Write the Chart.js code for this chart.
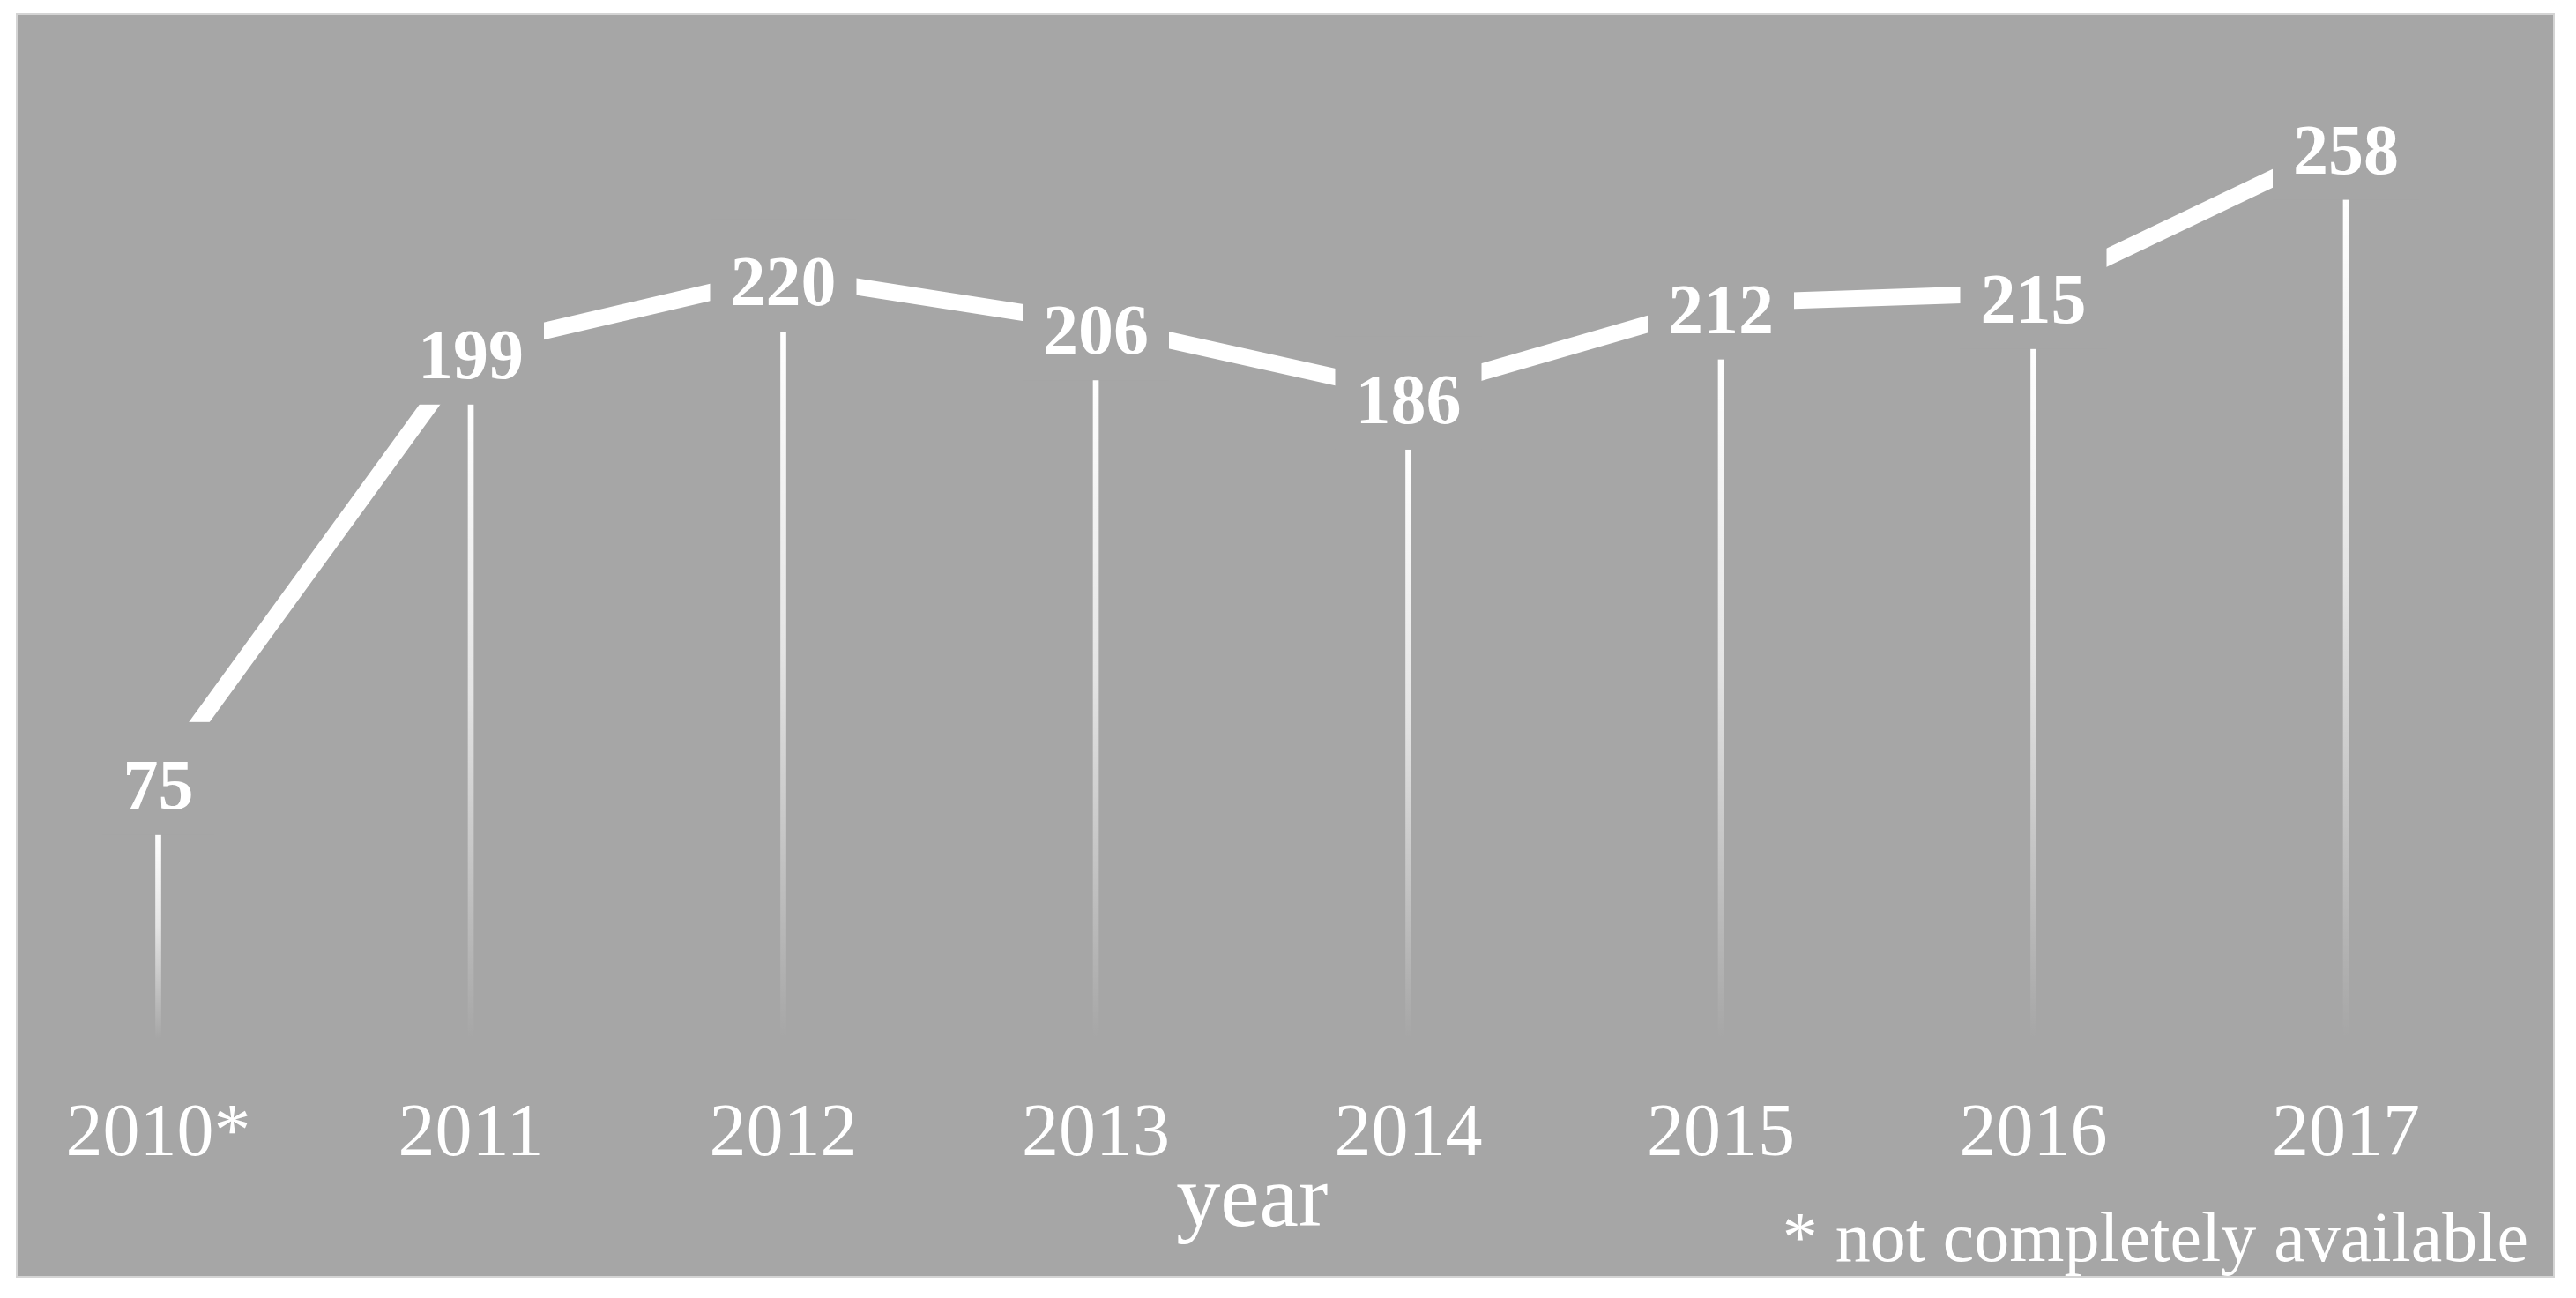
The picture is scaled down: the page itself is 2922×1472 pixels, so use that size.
<!DOCTYPE html>
<html lang="en">
<head>
<meta charset="UTF-8">
<title>Count per year</title>
<style>
  body { margin: 0; background: #ffffff; }
  #chart { display: block; }
</style>
</head>
<body>
<canvas id="chart" width="2922" height="1472"></canvas>
<script src="https://cdn.jsdelivr.net/npm/chart.js"></script>
<script>
const years = ['2010*', '2011', '2012', '2013', '2014', '2015', '2016', '2017'];
const counts = [75, 199, 220, 206, 186, 212, 215, 258];
const axisTitle = 'year';
const footnote = '* not completely available';

const PANEL = '#a6a6a6';
const FONT = '"Liberation Serif", "Times New Roman", serif';

// grey panel behind the whole chart
const panelPlugin = {
  id: 'panel',
  beforeDraw(chart) {
    const c = chart.ctx;
    c.save();
    c.fillStyle = '#ffffff';
    c.fillRect(0, 0, chart.width, chart.height);
    c.fillStyle = PANEL;
    c.fillRect(19, 16, 2878, 1432);
    c.strokeStyle = '#d4d4d4';
    c.lineWidth = 2;
    c.strokeRect(19, 16, 2878, 1432);
    c.restore();
  }
};

// value labels with a grey box that cuts the line
const labelPlugin = {
  id: 'valueLabels',
  afterDatasetsDraw(chart) {
    const c = chart.ctx;
    const meta = chart.getDatasetMeta(1);
    c.save();
    c.font = 'bold 80px ' + FONT;
    c.textAlign = 'center';
    c.textBaseline = 'alphabetic';
    meta.data.forEach((pt, i) => {
      const txt = String(counts[i]);
      const w = c.measureText(txt).width;
      c.fillStyle = PANEL;
      c.fillRect(pt.x - w / 2 - 23, pt.y - 64, w + 46, 128);
      c.fillStyle = '#ffffff';
      c.fillText(txt, pt.x, pt.y + 34);
    });
    // footnote
    c.font = '80px ' + FONT;
    c.textAlign = 'right';
    c.fillText(footnote, 2868, 1430);
    c.restore();
  }
};

const ctx = document.getElementById('chart').getContext('2d');

new Chart(ctx, {
  data: {
    labels: years,
    datasets: [
      {
        type: 'bar',
        data: counts,
        order: 2,
        barThickness: 6,
        borderWidth: 0,
        clip: false,
        backgroundColor(context) {
          const chart = context.chart;
          if (!chart.chartArea || context.raw === undefined) return 'rgba(255,255,255,0.8)';
          const y = chart.scales.y;
          const top = y.getPixelForValue(context.raw) + 64;
          const base = y.getPixelForValue(0);
          const g = chart.ctx.createLinearGradient(0, top, 0, base);
          g.addColorStop(0, 'rgba(255,255,255,1)');
          g.addColorStop(0.45, 'rgba(255,255,255,0.7)');
          g.addColorStop(1, 'rgba(255,255,255,0)');
          return g;
        }
      },
      {
        type: 'line',
        data: counts,
        order: 1,
        borderColor: '#ffffff',
        borderWidth: 19,
        borderCapStyle: 'butt',
        pointRadius: 0,
        tension: 0,
        fill: false,
        clip: false
      }
    ]
  },
  options: {
    responsive: false,
    animation: false,
    devicePixelRatio: 1,
    layout: {
      padding: { top: 76, left: 179.5, right: 261, bottom: 0 }
    },
    plugins: {
      legend: { display: false },
      tooltip: { enabled: false }
    },
    scales: {
      x: {
        offset: false,
        grid: { display: false, drawTicks: false },
        border: { display: false },
        ticks: {
          color: '#ffffff',
          padding: 60,
          maxRotation: 0,
          font: { family: FONT, size: 84 }
        },
        title: {
          display: true,
          text: axisTitle,
          color: '#ffffff',
          padding: { top: 0, bottom: 48 },
          font: { family: FONT, size: 100 }
        },
        afterFit(scale) {
          scale.height = 294;
        }
      },
      y: {
        display: false,
        min: 0,
        max: 280
      }
    }
  },
  plugins: [panelPlugin, labelPlugin]
});
</script>
</body>
</html>
